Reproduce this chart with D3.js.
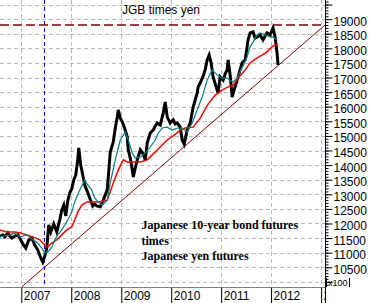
<!DOCTYPE html>
<html>
<head>
<meta charset="utf-8">
<script src="https://cdn.jsdelivr.net/npm/d3@7"></script>
<style>
  body { margin: 0; background: #fff; }
  svg { display: block; font-family: "Liberation Sans", Arial, sans-serif; }
</style>
</head>
<body>
<div id="chart"></div>
<script>
// JGB futures x yen futures, weekly as [decimal year, value]
const price = [
  [2006.58,11570],[2006.64,11610],[2006.68,11540],[2006.74,11680],[2006.78,11570],[2006.82,11500],
  [2006.88,11570],[2006.94,11610],[2006.98,11500],[2007.04,11300],[2007.10,11160],[2007.16,11440],
  [2007.22,11500],[2007.28,11260],[2007.34,11090],[2007.40,10820],[2007.44,10680],[2007.48,10890],
  [2007.52,11160],[2007.56,11950],[2007.60,11710],[2007.66,11980],[2007.72,11710],[2007.78,12120],
  [2007.82,12460],[2007.86,12630],[2007.90,12260],[2007.94,12770],[2007.98,13050],[2008.02,13180],
  [2008.06,13490],[2008.10,13660],[2008.14,14180],[2008.16,14590],[2008.20,14000],[2008.24,13660],
  [2008.28,13320],[2008.32,13150],[2008.38,12870],[2008.44,12600],[2008.48,12670],[2008.52,12600],
  [2008.59,12570],[2008.65,12800],[2008.69,12980],[2008.73,13150],[2008.79,14450],[2008.85,14790],
  [2008.89,15270],[2008.93,15650],[2008.95,15890],[2008.99,15610],[2009.03,15480],[2009.07,15300],
  [2009.13,14960],[2009.15,14520],[2009.19,14240],[2009.23,13830],[2009.25,13590],[2009.29,13900],
  [2009.33,14180],[2009.39,14520],[2009.45,14380],[2009.49,14180],[2009.53,14760],[2009.59,15100],
  [2009.65,15200],[2009.69,15340],[2009.73,15440],[2009.79,15370],[2009.85,15780],[2009.89,16160],
  [2009.93,15650],[2009.99,15440],[2010.05,15550],[2010.09,15410],[2010.13,15440],[2010.19,15300],
  [2010.23,14860],[2010.27,14720],[2010.33,15200],[2010.39,15440],[2010.45,15990],[2010.49,16230],
  [2010.53,16470],[2010.55,16680],[2010.59,16810],[2010.65,17050],[2010.69,17260],[2010.73,17600],
  [2010.77,17770],[2010.81,17500],[2010.85,17020],[2010.91,16680],[2010.95,16470],[2010.99,17020],
  [2011.05,16910],[2011.09,17120],[2011.13,17260],[2011.15,17600],[2011.19,17090],[2011.21,16740],
  [2011.23,16330],[2011.27,16570],[2011.29,16680],[2011.35,17020],[2011.39,17260],[2011.43,17500],
  [2011.49,17600],[2011.53,18050],[2011.55,18290],[2011.59,18530],[2011.65,18560],[2011.69,18350],
  [2011.73,18390],[2011.79,18460],[2011.85,18290],[2011.89,18420],[2011.93,18530],[2011.99,18460],
  [2012.05,18700],[2012.09,18390],[2012.13,17840],[2012.15,17430]
];

// short moving average (teal)
const fastAvg = [
  [2006.58,11540],[2006.78,11610],[2006.88,11680],[2006.98,11540],[2007.12,11610],[2007.24,11440],
  [2007.34,11330],[2007.42,11160],[2007.48,10990],[2007.54,11020],[2007.62,11190],[2007.68,11440],
  [2007.74,11610],[2007.82,11780],[2007.88,11950],[2007.94,12120],[2008.02,12390],[2008.08,12740],
  [2008.18,13150],[2008.28,13490],[2008.34,13320],[2008.42,13150],[2008.48,12870],[2008.55,12740],
  [2008.63,12630],[2008.73,12800],[2008.79,13390],[2008.89,14180],[2008.99,14860],[2009.09,15130],
  [2009.15,14860],[2009.23,14410],[2009.29,14240],[2009.39,14280],[2009.49,14410],[2009.59,14620],
  [2009.69,14860],[2009.75,15100],[2009.83,15270],[2009.93,15300],[2010.03,15200],[2010.13,15270],
  [2010.23,15270],[2010.33,15130],[2010.43,15440],[2010.53,15890],[2010.63,16330],[2010.73,16910],
  [2010.83,17260],[2010.93,17090],[2011.03,16980],[2011.13,16980],[2011.19,16910],[2011.25,16850],
  [2011.33,16980],[2011.43,17330],[2011.53,17700],[2011.59,18050],[2011.65,18220],[2011.73,18460],
  [2011.79,18530],[2011.89,18460],[2011.99,18390],[2012.05,18390],[2012.13,18290]
];

// long moving average (red)
const slowAvg = [
  [2006.58,11780],[2006.72,11710],[2006.88,11710],[2006.98,11680],[2007.12,11610],[2007.24,11540],
  [2007.38,11440],[2007.48,11260],[2007.54,11200],[2007.62,11330],[2007.72,11440],[2007.82,11610],
  [2007.92,11780],[2008.02,11880],[2008.08,12120],[2008.14,12390],[2008.22,12630],[2008.32,12740],
  [2008.42,12740],[2008.55,12740],[2008.73,12800],[2008.85,13390],[2008.95,13830],[2009.05,14180],
  [2009.13,14110],[2009.25,14110],[2009.39,14110],[2009.53,14180],[2009.63,14350],[2009.73,14520],
  [2009.83,14690],[2009.93,14860],[2010.05,15000],[2010.19,15200],[2010.29,15270],[2010.45,15300],
  [2010.59,15610],[2010.75,16090],[2010.89,16400],[2011.03,16570],[2011.15,16680],[2011.25,16740],
  [2011.35,16980],[2011.49,17260],[2011.59,17500],[2011.73,17670],[2011.83,17770],[2011.93,17880],
  [2012.03,18050],[2012.09,18120],[2012.15,18120]
];

const trend = [[2007.02, 9830], [2013.09, 18800]];
const resistance = 18800;
const markYear = 2007.46;
const labelValues = d3.range(10500, 19001, 500);
const title = "JGB times yen";
const note = ["Japanese 10-year bond futures", "times", "Japanese yen futures"];

function toDate(v) {
  const yr = Math.floor(v);
  const a = new Date(yr, 0, 1), b = new Date(yr + 1, 0, 1);
  return new Date(+a + (v - yr) * (b - a));
}

const W = 371, H = 303;
const plotW = 325, plotH = 287;

const x = d3.scaleTime()
  .domain([toDate(2006.583), toDate(2013.088)])
  .range([0, plotW]);
const y = d3.scaleLinear()
  .domain([9825, 19655])
  .range([plotH, 0]);

const svg = d3.select("#chart").append("svg")
  .attr("width", W)
  .attr("height", H);

// grid
const years = x.ticks(d3.timeYear.every(1));
svg.append("g").selectAll("line")
  .data(years)
  .join("line")
    .attr("x1", d => Math.round(x(d)) + 0.5)
    .attr("x2", d => Math.round(x(d)) + 0.5)
    .attr("y1", 0)
    .attr("y2", plotH)
    .attr("stroke", "#b8b8b8")
    .attr("stroke-dasharray", "4,3");

svg.append("g").selectAll("line")
  .data(d3.range(10000, 19501, 500))
  .join("line")
    .attr("x1", 0)
    .attr("x2", plotW)
    .attr("y1", d => Math.round(y(d)) + 0.5)
    .attr("y2", d => Math.round(y(d)) + 0.5)
    .attr("stroke", "#b8b8b8")
    .attr("stroke-dasharray", "4,3");

// marker line
svg.append("line")
  .attr("x1", Math.round(x(toDate(markYear))) + 0.5)
  .attr("x2", Math.round(x(toDate(markYear))) + 0.5)
  .attr("y1", 0)
  .attr("y2", plotH)
  .attr("stroke", "#0000ff")
  .attr("stroke-dasharray", "4,3");

// resistance
svg.append("line")
  .attr("x1", 0)
  .attr("x2", plotW)
  .attr("y1", y(resistance))
  .attr("y2", y(resistance))
  .attr("stroke", "#800000")
  .attr("stroke-width", 1.5)
  .attr("stroke-dasharray", "9,4");

const line = d3.line()
  .x(d => x(toDate(d[0])))
  .y(d => y(d[1]));

svg.append("path")
  .datum(trend)
  .attr("fill", "none")
  .attr("stroke", "#800000")
  .attr("stroke-width", 1)
  .attr("d", line);

svg.append("path")
  .datum(price)
  .attr("fill", "none")
  .attr("stroke", "#000")
  .attr("stroke-width", 3)
  .attr("stroke-linejoin", "miter")
  .attr("d", line);

svg.append("path")
  .datum(slowAvg)
  .attr("fill", "none")
  .attr("stroke", "#ff0000")
  .attr("stroke-width", 1.5)
  .attr("d", line);

svg.append("path")
  .datum(fastAvg)
  .attr("fill", "none")
  .attr("stroke", "#008080")
  .attr("stroke-width", 1.2)
  .attr("d", line);

// title + note
svg.append("text")
  .attr("x", 161)
  .attr("y", 14)
  .attr("text-anchor", "middle")
  .attr("font-size", 12)
  .text(title);

svg.append("g")
  .attr("font-family", "'Liberation Serif', 'Times New Roman', serif")
  .attr("font-weight", "bold")
  .attr("font-size", 12)
  .selectAll("text")
  .data(note)
  .join("text")
    .attr("x", 141.5)
    .attr("y", (d, i) => 229 + i * 15.5)
    .text(d => d);

// bottom axis (clipped where the right axis starts)
svg.append("defs").append("clipPath")
  .attr("id", "xclip")
  .append("rect")
    .attr("x", -1).attr("y", 0).attr("width", plotW + 1.5).attr("height", 20);

const xAxis = svg.append("g")
  .attr("transform", `translate(0,${plotH + 0.5})`)
  .attr("clip-path", "url(#xclip)")
  .call(d3.axisBottom(x).ticks(d3.timeYear.every(1)).tickSize(16).tickSizeOuter(0).tickFormat(d3.timeFormat("%Y")));
xAxis.select(".domain").attr("d", `M0,0H${plotW}`);
xAxis.selectAll(".tick line").attr("transform", "translate(0.5,0)");
xAxis.selectAll("text")
  .attr("text-anchor", "start")
  .attr("x", 2.5)
  .attr("y", 12.5)
  .attr("dy", 0)
  .attr("font-size", 12)
  .attr("font-family", "'Liberation Sans', Arial, sans-serif")
  .attr("fill", "#000");

// right axis: minor + major ticks
svg.append("g")
  .attr("transform", `translate(${plotW + 0.5},0)`)
  .call(d3.axisRight(y).tickValues(d3.range(9900, 19601, 100)).tickSize(3).tickFormat(""))
  .call(g => g.select(".domain").remove());

const yAxis = svg.append("g")
  .attr("transform", `translate(${plotW + 0.5},0)`)
  .call(d3.axisRight(y).tickValues(d3.range(10000, 19501, 500)).tickSize(7).tickPadding(1)
    .tickFormat(d => labelValues.includes(d) ? d : ""));
yAxis.select(".domain").attr("d", `M0,0V${H}`);
yAxis.selectAll("text")
  .attr("font-size", 12)
  .attr("font-family", "'Liberation Sans', Arial, sans-serif")
  .attr("dy", "0.5em")
  .attr("fill", "#000");

// x100 unit box
svg.append("line").attr("x1", 326.5).attr("x2", 326.5).attr("y1", 278).attr("y2", 287).attr("stroke", "#000");
svg.append("line").attr("x1", 349.5).attr("x2", 349.5).attr("y1", 278).attr("y2", 287).attr("stroke", "#000");
svg.append("text")
  .attr("x", 328)
  .attr("y", 286)
  .attr("font-size", 9)
  .text("x100");
</script>
</body>
</html>
